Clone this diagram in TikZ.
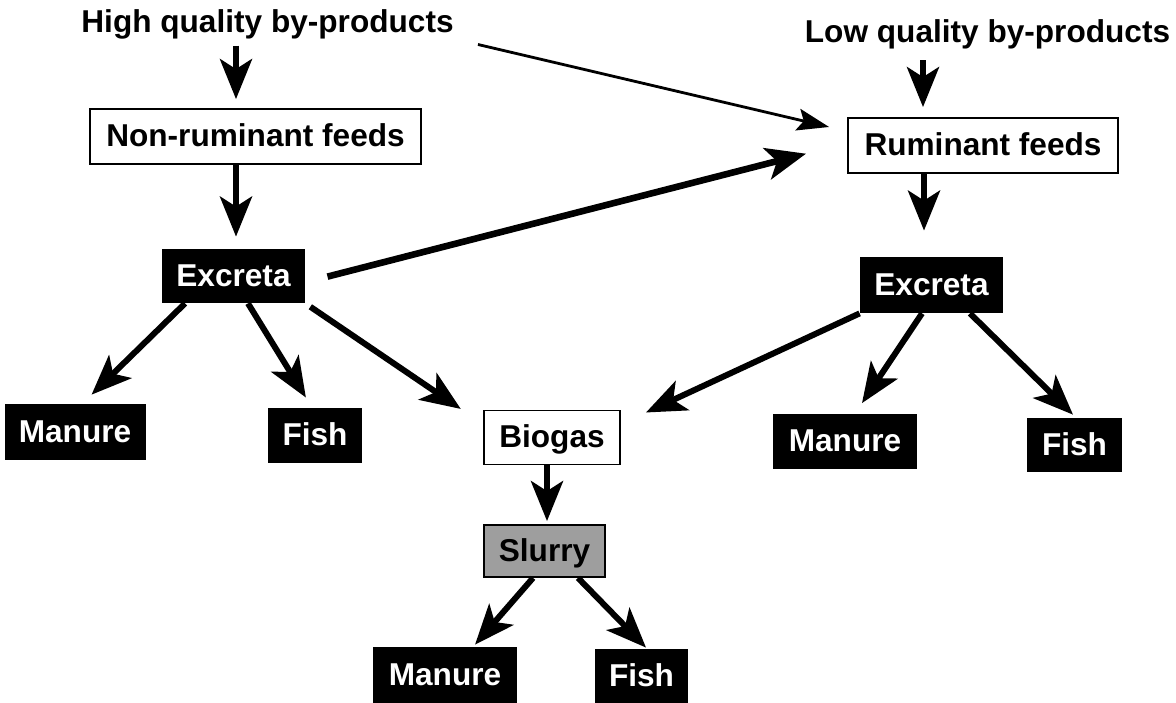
\documentclass[tikz,border=0pt]{standalone}
\usepackage{fontspec}
\setmainfont{Liberation Sans}
\usetikzlibrary{arrows.meta}

\begin{document}
\begin{tikzpicture}[x=0.5pt,y=-0.5pt,
        every node/.style={font=\fontsize{15.8}{18}\selectfont\bfseries},
        src/.style={inner sep=0pt},
        feed/.style={draw,line width=0.9pt,fill=white,inner sep=0pt,text height=11.5pt,text depth=1.5pt},
        dark/.style={fill=black,text=white,inner sep=0pt,text height=11.5pt,text depth=1.5pt},
        mud/.style={draw,line width=0.9pt,fill=black!38,inner sep=0pt,text height=11.5pt,text depth=1.5pt},
        flow/.style={line width=3pt,-{Stealth[length=20pt,width=16pt,inset=5pt]}},
        thinflow/.style={line width=1.4pt,-{Stealth[length=16pt,width=11pt,inset=3pt]}}]
        \useasboundingbox (0,0) rectangle (1176,702);

        % Sources
        \node[src] (HQ) at (267.5,24) {High quality by-products};
        \node[src] (LQ) at (987.5,34) {Low quality by-products};

        % Feeds
        \node[feed,minimum width=165.5pt,minimum height=27.5pt] (NR) at (255.5,136.5) {Non-ruminant feeds};
        \node[feed,minimum width=135pt,minimum height=27.5pt] (RF) at (983,145.5) {Ruminant feeds};

        % Excreta and uses
        \node[dark,minimum width=71.5pt,minimum height=27pt] (E1) at (233.5,276) {Excreta};
        \node[dark,minimum width=71.5pt,minimum height=28pt] (E2) at (931.5,285) {Excreta};
        \node[dark,minimum width=70.5pt,minimum height=28pt] (M1) at (75,432) {Manure};
        \node[dark,minimum width=47pt,minimum height=27.5pt] (F1) at (315,435.5) {Fish};
        \node[feed,minimum width=68pt,minimum height=27pt] (BG) at (552,437.5) {Biogas};
        \node[dark,minimum width=72pt,minimum height=27.5pt] (M2) at (845,441) {Manure};
        \node[dark,minimum width=47.5pt,minimum height=27pt] (F2) at (1074.5,445) {Fish};
        \node[mud,minimum width=60.5pt,minimum height=26pt] (SL) at (544.5,551) {Slurry};
        \node[dark,minimum width=72pt,minimum height=28pt] (M3) at (445,675) {Manure};
        \node[dark,minimum width=46.5pt,minimum height=27pt] (F3) at (641.5,676) {Fish};

        % Arrows from the by-products
        \draw[flow,shorten <=3.2pt,shorten >=4.5pt] ([xshift=-15.75pt]HQ.south) -- ([xshift=-9.75pt]NR.north);
        \draw[flow,shorten <=5.6pt,shorten >=5pt] ([xshift=-32.25pt]LQ.south) -- ([xshift=-30pt]RF.north);
        \draw[thinflow,shorten >=9.25pt] ([shift={(12pt,-2.65pt)}]HQ.south east) -- (RF.174);

        % Feeds to excreta
        \draw[flow,shorten >=6pt] ([xshift=-9.75pt]NR.south) -- ([xshift=1.25pt]E1.north);
        \draw[flow,shorten >=13pt] ([xshift=-29.5pt]RF.south) -- ([xshift=-3.75pt]E2.north);
        \draw[flow,line width=3.3pt,shorten <=11.4pt,shorten >=21.2pt] (E1.-5) -- (RF.179);

        % Left excreta
        \draw[flow,shorten >=6.4pt] ([xshift=-24.25pt]E1.south) -- ([xshift=3.7pt]M1.north);
        \draw[flow,shorten >=5.9pt] ([xshift=7.25pt]E1.south) -- ([xshift=-1.45pt]F1.north);
        \draw[flow,shorten <=3pt,shorten >=13.5pt] (E1.south east) -- (BG.169);

        % Right excreta
        \draw[flow,shorten >=13.8pt] (E2.south west) -- (BG.11);
        \draw[flow,shorten >=6pt] ([xshift=-4.75pt]E2.south) -- ([xshift=5.15pt]M2.north);
        \draw[flow,shorten >=2.1pt] ([xshift=19.25pt]E2.south) -- ([xshift=0.75pt]F2.north);

        % Biogas and slurry
        \draw[flow,shorten >=1.5pt] ([xshift=-2.5pt]BG.south) -- ([xshift=1.25pt]SL.north);
        \draw[flow,shorten >=1.3pt] ([xshift=-5.75pt]SL.south) -- ([xshift=14.15pt]M3.north);
        \draw[flow,shorten >=0.7pt] ([xshift=16.75pt]SL.south) -- ([xshift=2.75pt]F3.north);
    \end{tikzpicture}
\end{document}
